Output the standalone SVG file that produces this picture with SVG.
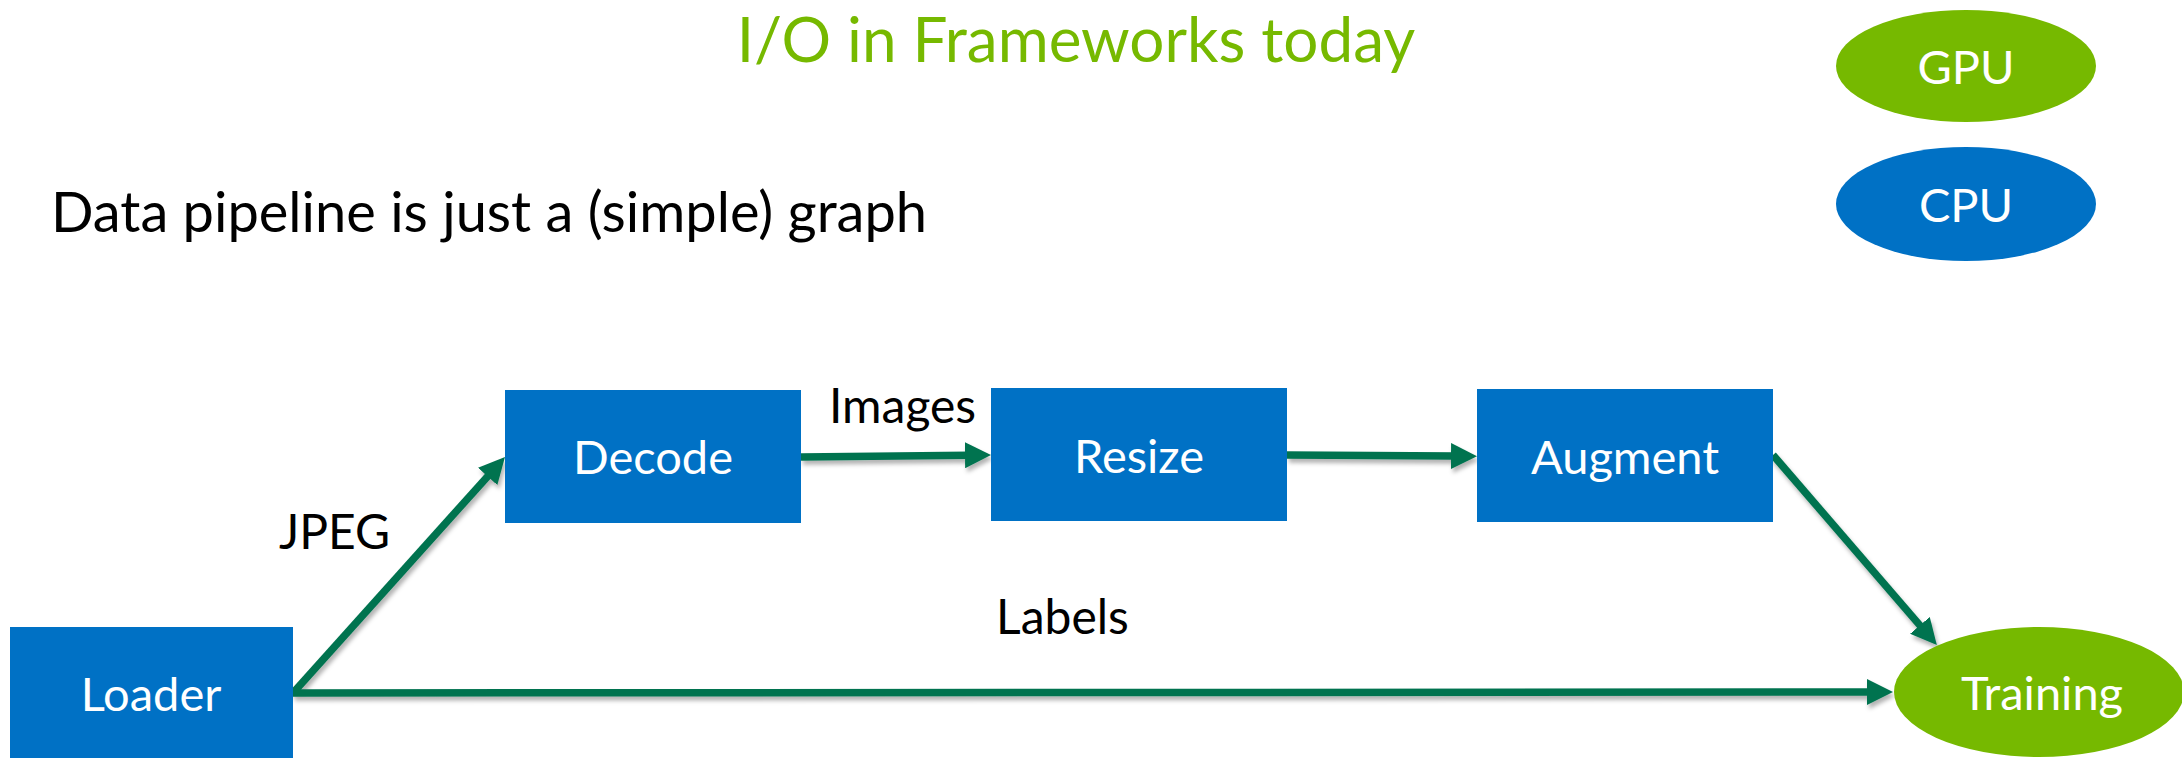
<svg xmlns="http://www.w3.org/2000/svg" width="2182" height="758" viewBox="0 0 2182 758">
  <style>
    text { font-family: Lato, "Open Sans", "Liberation Sans", sans-serif; }
    .box { fill: #0071C5; }
    .gpu { fill: #76B900; }
    .cpu { fill: #0071C5; }
    .in { fill: #FFFFFF; font-size: 47px; text-anchor: middle; }
    .lbl { fill: #000000; font-size: 48px; }
    .edge { fill: none; stroke: #007350; stroke-width: 7.5; }
  </style>
  <defs>
    <marker id="head" markerUnits="userSpaceOnUse" viewBox="0 0 26 26" markerWidth="26" markerHeight="26" refX="4" refY="13" orient="auto">
      <path d="M0,0 L26,13 L0,26 z" fill="#007350"/>
    </marker>
    <filter id="shadow" x="-10%" y="-10%" width="120%" height="130%">
      <feDropShadow dx="2" dy="4" stdDeviation="2" flood-color="#000" flood-opacity="0.3"/>
    </filter>
  </defs>

  <rect width="2182" height="758" fill="#FFFFFF"/>

  <!-- headings -->
  <text x="1076" y="62" fill="#76B900" font-size="62" text-anchor="middle">I/O in Frameworks today</text>
  <text x="51" y="232" fill="#000000" font-size="56">Data pipeline is just a (simple) graph</text>

  <!-- legend -->
  <g id="legend-gpu">
    <ellipse class="gpu" cx="1966" cy="66" rx="130" ry="56"/>
    <text class="in" x="1966" y="84">GPU</text>
  </g>
  <g id="legend-cpu">
    <ellipse class="cpu" cx="1966" cy="204" rx="130" ry="57"/>
    <text class="in" x="1966" y="222">CPU</text>
  </g>

  <!-- connectors -->
  <g id="connectors" filter="url(#shadow)">
    <path class="edge" d="M293,693 L490.3,473.4" marker-end="url(#head)"/>
    <path class="edge" d="M801,457 L969,455.2" marker-end="url(#head)"/>
    <path class="edge" d="M1287,455 L1455,456" marker-end="url(#head)"/>
    <path class="edge" d="M1773,455 L1922.5,628.4" marker-end="url(#head)"/>
    <path class="edge" d="M293,693 L1871,692" marker-end="url(#head)"/>
  </g>

  <!-- edge labels -->
  <text class="lbl" x="829" y="423">Images</text>
  <text class="lbl" x="279" y="549">JPEG</text>
  <text class="lbl" x="996" y="634">Labels</text>

  <!-- pipeline stages -->
  <g id="loader">
    <rect class="box" x="10" y="627" width="283" height="140"/>
    <text class="in" x="151" y="711">Loader</text>
  </g>
  <g id="decode">
    <rect class="box" x="505" y="390" width="296" height="133"/>
    <text class="in" x="653" y="474">Decode</text>
  </g>
  <g id="resize">
    <rect class="box" x="991" y="388" width="296" height="133"/>
    <text class="in" x="1139" y="473">Resize</text>
  </g>
  <g id="augment">
    <rect class="box" x="1477" y="389" width="296" height="133"/>
    <text class="in" x="1625" y="474">Augment</text>
  </g>
  <g id="training">
    <ellipse class="gpu" cx="2039" cy="692" rx="145" ry="65"/>
    <text class="in" x="2042" y="710">Training</text>
  </g>
</svg>
